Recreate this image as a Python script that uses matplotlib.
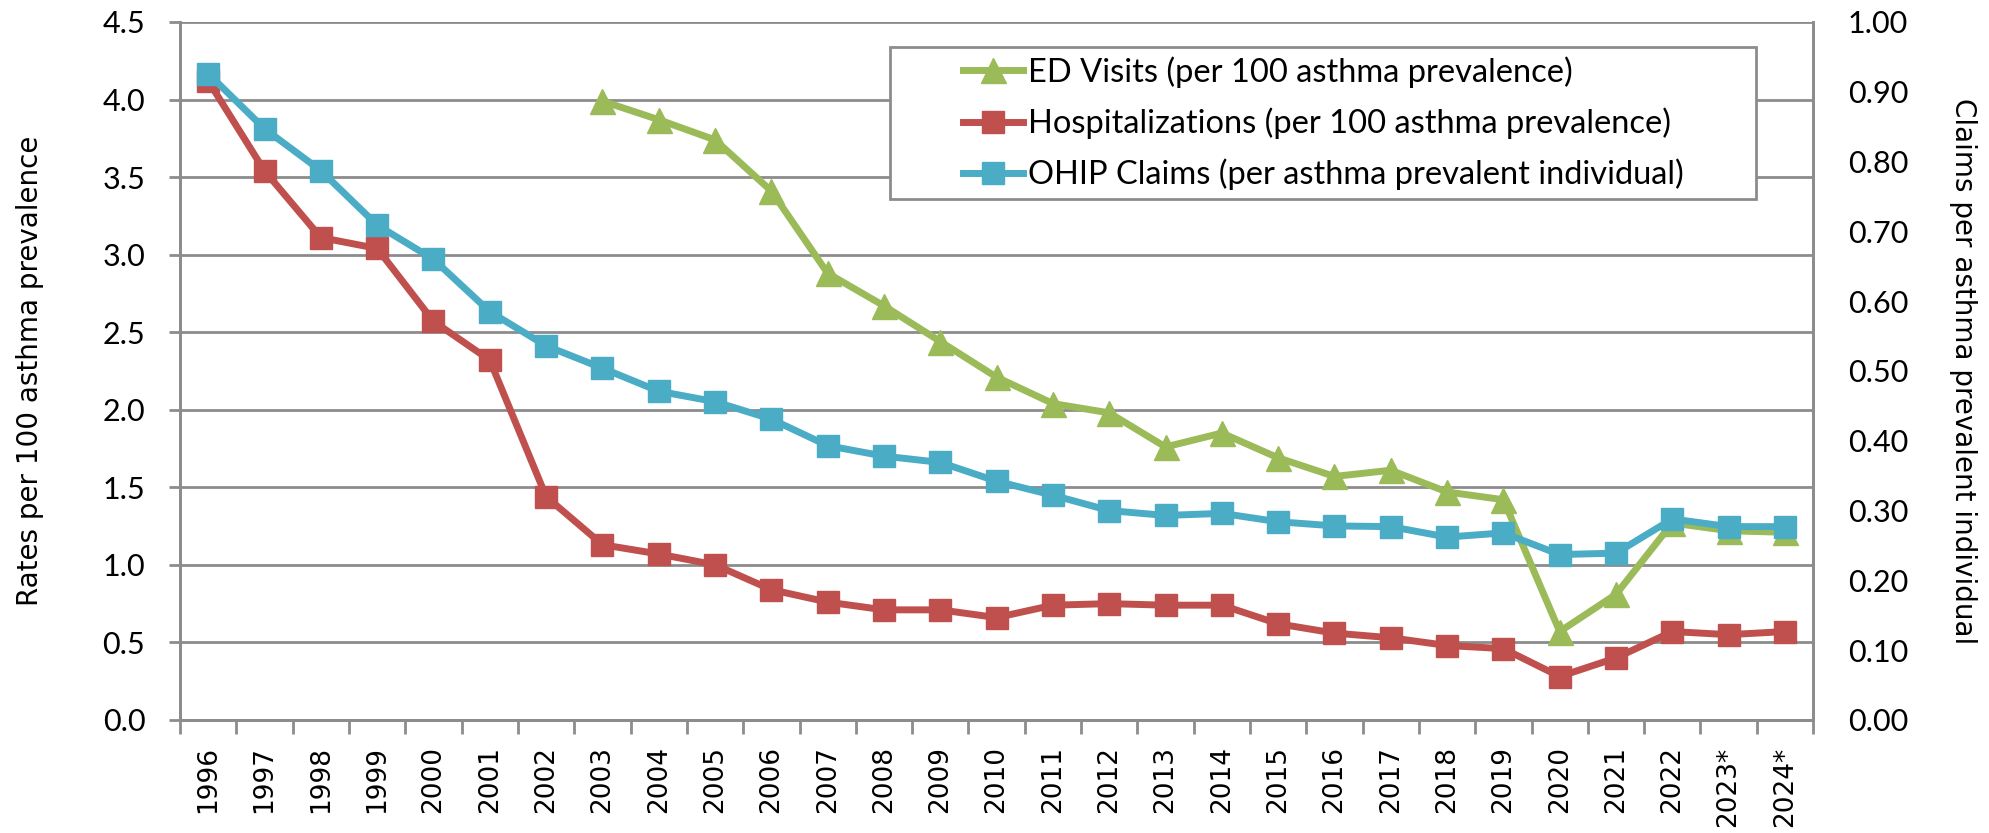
import matplotlib
matplotlib.use('Agg')
import matplotlib.pyplot as plt
from matplotlib.patches import Rectangle
import numpy as np

years = ['1996', '1997', '1998', '1999', '2000', '2001', '2002', '2003', '2004', '2005',
         '2006', '2007', '2008', '2009', '2010', '2011', '2012', '2013', '2014', '2015',
         '2016', '2017', '2018', '2019', '2020', '2021', '2022', '2023*', '2024*']

# ED visits start in 2003
ed_visits = [3.99, 3.87, 3.74, 3.41, 2.88, 2.67, 2.44, 2.21, 2.04, 1.98, 1.76, 1.85,
             1.69, 1.57, 1.61, 1.47, 1.42, 0.57, 0.81, 1.27, 1.22, 1.21]
hospitalizations = [4.12, 3.54, 3.11, 3.04, 2.57, 2.32, 1.44, 1.13, 1.07, 1.00, 0.84, 0.76,
                    0.71, 0.71, 0.66, 0.74, 0.75, 0.74, 0.74, 0.62, 0.56, 0.53, 0.48, 0.46,
                    0.28, 0.40, 0.57, 0.55, 0.57]
ohip_claims = [0.926, 0.847, 0.787, 0.709, 0.660, 0.585, 0.536, 0.504, 0.471, 0.456, 0.431,
               0.393, 0.378, 0.369, 0.342, 0.322, 0.300, 0.293, 0.296, 0.284, 0.278, 0.277,
               0.262, 0.268, 0.237, 0.239, 0.288, 0.277, 0.277]

green = '#9BBB59'
red = '#C0504D'
blue = '#4BACC6'
grid_grey = '#8C8C8C'
excel_font = ['Lato', 'DejaVu Sans']

x = np.arange(len(years))
x_ed = x[len(years) - len(ed_visits):]

fig = plt.figure(figsize=(19.9, 8.33), dpi=100)
ax = fig.add_axes([0.0905, 0.1357, 0.8206, 0.8379])
ax2 = ax.twinx()

l1, = ax.plot(x_ed, ed_visits, color=green, lw=5, marker='^', ms=18,
              label='ED Visits (per 100 asthma prevalence)')
l2, = ax.plot(x, hospitalizations, color=red, lw=5, marker='s', ms=16,
              label='Hospitalizations (per 100 asthma prevalence)')
l3, = ax2.plot(x, ohip_claims, color=blue, lw=5, marker='s', ms=16,
               label='OHIP Claims (per asthma prevalent individual)')

ax.set_xlim(-0.5, len(years) - 0.5)
ax.set_ylim(0, 4.5)
ax2.set_ylim(0, 1.0)
ax.set_yticks(np.arange(0, 4.51, 0.5))
ax2.set_yticks(np.arange(0, 1.001, 0.1))
ax.set_yticklabels(['%.1f' % v for v in np.arange(0, 4.51, 0.5)], fontfamily=excel_font, fontsize=22)
ax2.set_yticklabels(['%.2f' % v for v in np.arange(0, 1.001, 0.1)], fontfamily=excel_font, fontsize=22)

ax.set_xticks(x)
ax.set_xticklabels(years, rotation=90, fontsize=19, fontfamily='DejaVu Sans')
ax.set_xticks(np.arange(-0.5, len(years), 1), minor=True)
ax.tick_params(axis='x', which='major', length=0, pad=19)
ax.tick_params(axis='x', which='minor', length=10, width=2, color=grid_grey)
ax.tick_params(axis='y', length=8, width=2, color=grid_grey, pad=17)
ax2.tick_params(axis='y', length=0, pad=25)

ax.grid(axis='y', color=grid_grey, lw=2)
ax.set_axisbelow(True)
for a in (ax, ax2):
    for s in a.spines.values():
        s.set_color(grid_grey)
        s.set_linewidth(2)
    a.spines['top'].set_visible(False)

fig.text(0.0151, 0.5546, 'Rates per 100 asthma prevalence', rotation=90, fontsize=20,
         ha='center', va='center')
fig.text(0.9864, 0.5546, 'Claims per asthma prevalent individual', rotation=270, fontsize=20,
         ha='center', va='center')

# legend box drawn separately so the entries sit centred like Excel's
ax2.add_patch(Rectangle((0.435, 0.746), 0.53, 0.218, transform=ax2.transAxes, facecolor='white',
                        edgecolor=grid_grey, lw=2, zorder=4, clip_on=False))
leg = ax2.legend(handles=[l1, l2, l3], loc='center', bbox_to_anchor=(0.700, 0.855),
                 prop={'family': excel_font, 'size': 23.5}, frameon=False,
                 borderaxespad=0, handlelength=1.85, handletextpad=0.15, labelspacing=0.6,
                 borderpad=0)
leg.set_zorder(5)

fig.savefig('out.png', dpi=100)
